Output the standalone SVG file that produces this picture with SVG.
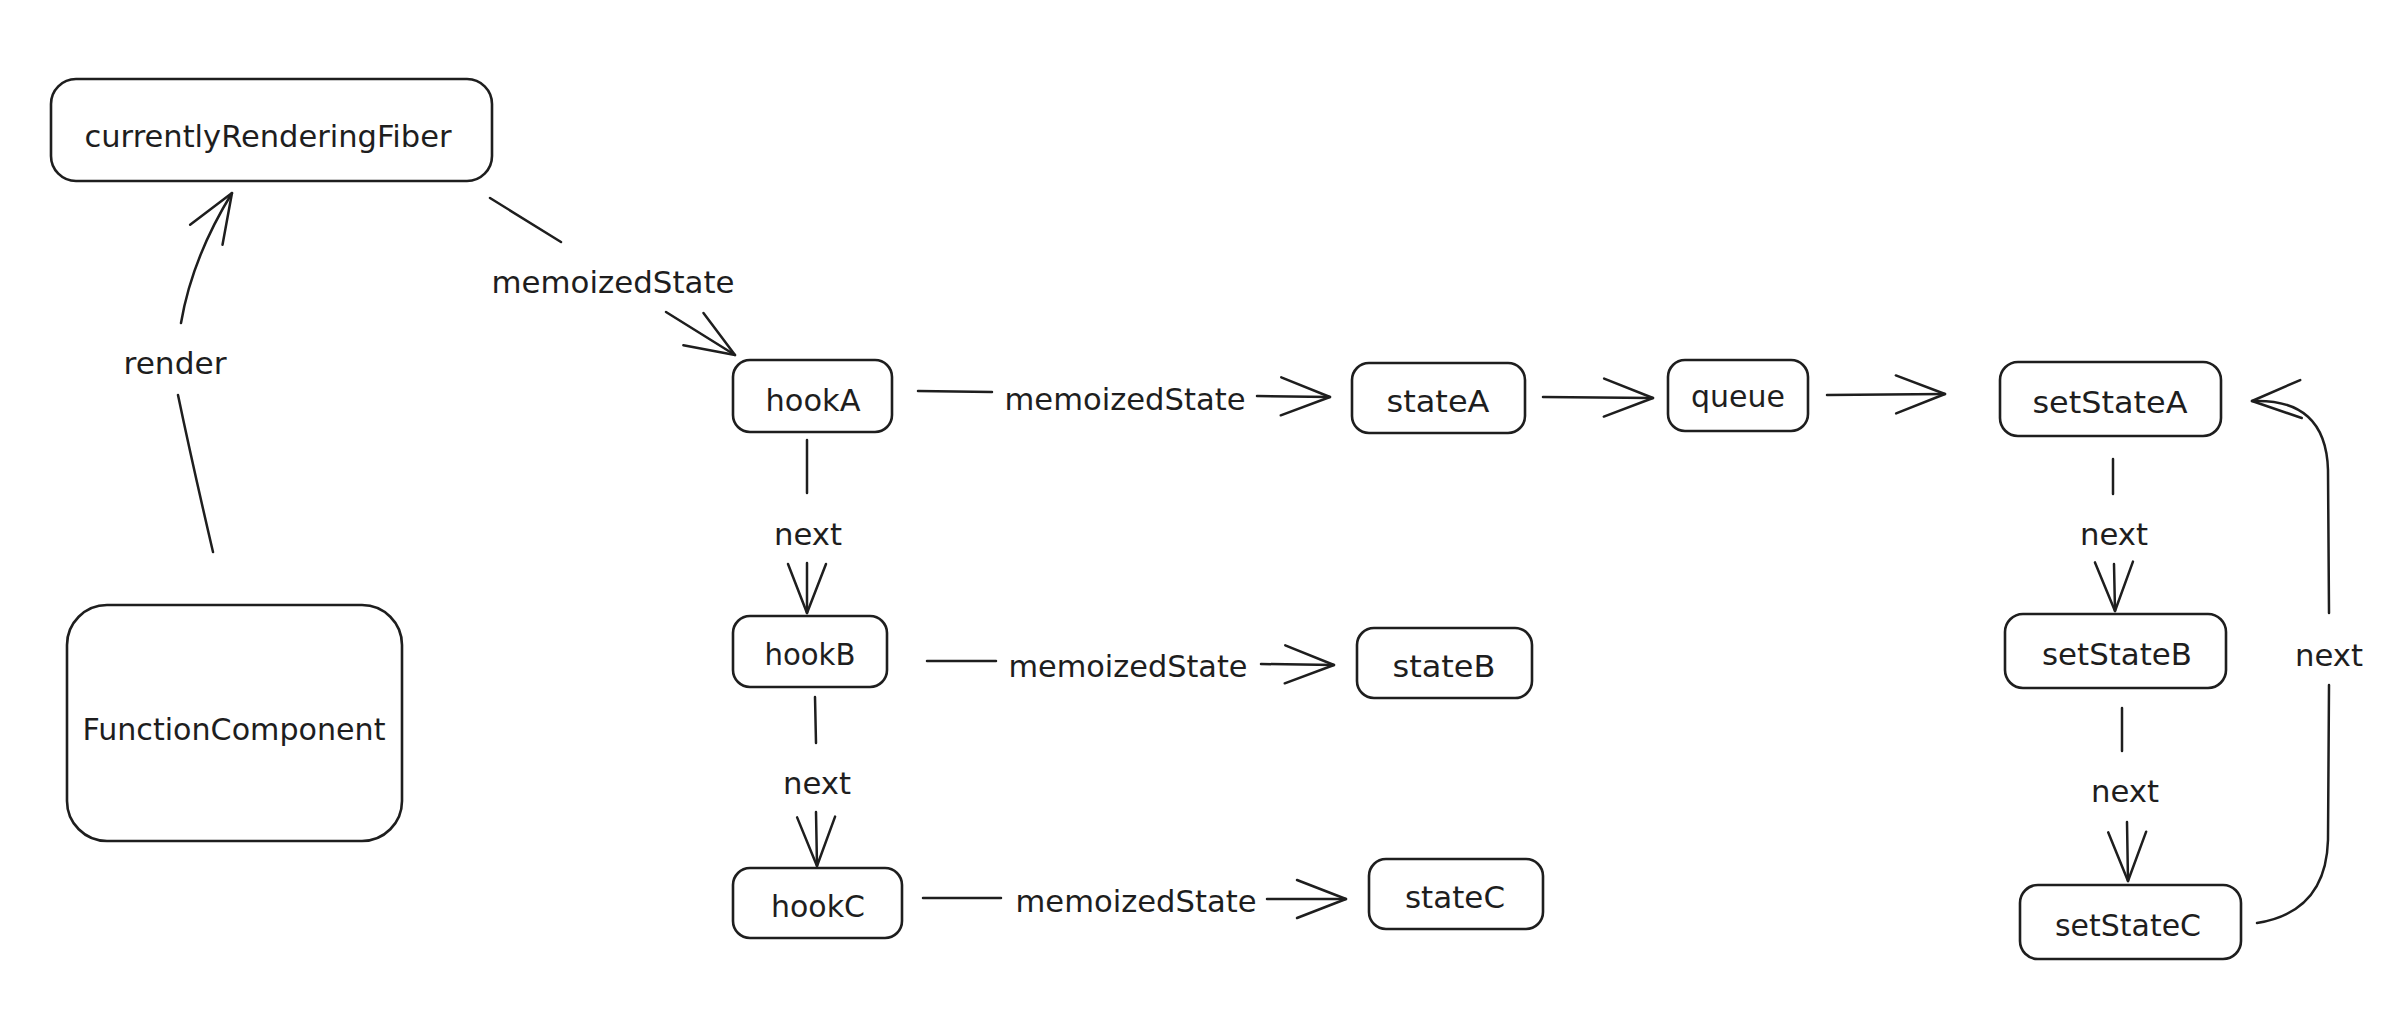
<svg xmlns="http://www.w3.org/2000/svg" width="2384" height="1022" viewBox="0 0 2384 1022">
<style>
.box{fill:#ffffff;stroke:#1e1e1e;stroke-width:2.6}
.ln{fill:none;stroke:#1e1e1e;stroke-width:2.5;stroke-linecap:round;stroke-linejoin:round}
.t{font-family:"DejaVu Sans","Liberation Sans",sans-serif;font-size:31px;fill:#1e1e1e;text-anchor:middle;dominant-baseline:central}
</style>
<defs>
<marker id="ah" markerUnits="userSpaceOnUse" viewBox="0 0 54 42" markerWidth="54" markerHeight="42" refX="51" refY="21" orient="auto">
<path d="M2,2 L51,21 L2,40" fill="none" stroke="#1e1e1e" stroke-width="2.5" stroke-linecap="round" stroke-linejoin="round"/>
</marker>
</defs>
<rect width="2384" height="1022" fill="#ffffff"/>

<g id="connectors">
<!-- render -->
<path class="ln" d="M213,552 Q192,462 178,395"/>
<path class="ln" d="M181,323 Q192,258 232,193" marker-end="url(#ah)"/>
<text class="t" x="175" y="363" textLength="103" lengthAdjust="spacingAndGlyphs">render</text>
<!-- fiber -> hookA -->
<path class="ln" d="M490,198 L561,242"/>
<path class="ln" d="M666,312 L735,355" marker-end="url(#ah)"/>
<text class="t" x="613" y="282" textLength="243" lengthAdjust="spacingAndGlyphs">memoizedState</text>
<!-- hookA -> stateA -->
<path class="ln" d="M918,391 L992,392"/>
<path class="ln" d="M1257,396 L1330,397" marker-end="url(#ah)"/>
<text class="t" x="1125" y="399" textLength="241" lengthAdjust="spacingAndGlyphs">memoizedState</text>
<!-- stateA -> queue -->
<path class="ln" d="M1543,397 L1653,398" marker-end="url(#ah)"/>
<!-- queue -> setStateA -->
<path class="ln" d="M1827,395 L1945,394" marker-end="url(#ah)"/>
<!-- hookA -> hookB -->
<path class="ln" d="M807,440 L807,493"/>
<path class="ln" d="M807,563 L807,613" marker-end="url(#ah)"/>
<text class="t" x="808" y="534" textLength="68" lengthAdjust="spacingAndGlyphs">next</text>
<!-- hookB -> stateB -->
<path class="ln" d="M927,661 L996,661"/>
<path class="ln" d="M1261,664 L1334,665" marker-end="url(#ah)"/>
<text class="t" x="1128" y="666" textLength="239" lengthAdjust="spacingAndGlyphs">memoizedState</text>
<!-- hookB -> hookC -->
<path class="ln" d="M815,697 L816,743"/>
<path class="ln" d="M816,812 L817,866" marker-end="url(#ah)"/>
<text class="t" x="817" y="783" textLength="68" lengthAdjust="spacingAndGlyphs">next</text>
<!-- hookC -> stateC -->
<path class="ln" d="M923,898 L1001,898"/>
<path class="ln" d="M1267,899 L1346,899" marker-end="url(#ah)"/>
<text class="t" x="1136" y="901" textLength="241" lengthAdjust="spacingAndGlyphs">memoizedState</text>
<!-- setStateA -> setStateB -->
<path class="ln" d="M2113,459 L2113,494"/>
<path class="ln" d="M2114,564 L2115,611" marker-end="url(#ah)"/>
<text class="t" x="2114" y="534" textLength="68" lengthAdjust="spacingAndGlyphs">next</text>
<!-- setStateB -> setStateC -->
<path class="ln" d="M2122,708 L2122,751"/>
<path class="ln" d="M2127,822 L2128,881" marker-end="url(#ah)"/>
<text class="t" x="2125" y="791" textLength="68" lengthAdjust="spacingAndGlyphs">next</text>
<!-- setStateC -> setStateA (loop) -->
<path class="ln" d="M2257,923 Q2326,912 2328,840 L2329,685"/>
<path class="ln" d="M2329,613 L2328,470 Q2326,398 2252,401" marker-end="url(#ah)"/>
<text class="t" x="2329" y="655" textLength="68" lengthAdjust="spacingAndGlyphs">next</text>
</g>

<g id="node-currentlyRenderingFiber">
<rect class="box" x="51" y="79" width="441" height="102" rx="25"/>
<text class="t" x="268" y="136" textLength="367" lengthAdjust="spacingAndGlyphs">currentlyRenderingFiber</text>
</g>
<g id="node-FunctionComponent">
<rect class="box" x="67" y="605" width="335" height="236" rx="40"/>
<text class="t" x="234" y="729" textLength="303" lengthAdjust="spacingAndGlyphs">FunctionComponent</text>
</g>
<g id="node-hookA">
<rect class="box" x="733" y="360" width="159" height="72" rx="17"/>
<text class="t" x="813" y="400" textLength="95" lengthAdjust="spacingAndGlyphs">hookA</text>
</g>
<g id="node-stateA">
<rect class="box" x="1352" y="363" width="173" height="70" rx="17"/>
<text class="t" x="1438" y="401" textLength="103" lengthAdjust="spacingAndGlyphs">stateA</text>
</g>
<g id="node-queue">
<rect class="box" x="1668" y="360" width="140" height="71" rx="17"/>
<text class="t" x="1738" y="396" textLength="94" lengthAdjust="spacingAndGlyphs">queue</text>
</g>
<g id="node-setStateA">
<rect class="box" x="2000" y="362" width="221" height="74" rx="18"/>
<text class="t" x="2110" y="402" textLength="155" lengthAdjust="spacingAndGlyphs">setStateA</text>
</g>
<g id="node-hookB">
<rect class="box" x="733" y="616" width="154" height="71" rx="17"/>
<text class="t" x="810" y="654" textLength="91" lengthAdjust="spacingAndGlyphs">hookB</text>
</g>
<g id="node-stateB">
<rect class="box" x="1357" y="628" width="175" height="70" rx="17"/>
<text class="t" x="1444" y="666" textLength="103" lengthAdjust="spacingAndGlyphs">stateB</text>
</g>
<g id="node-hookC">
<rect class="box" x="733" y="868" width="169" height="70" rx="17"/>
<text class="t" x="818" y="906" textLength="94" lengthAdjust="spacingAndGlyphs">hookC</text>
</g>
<g id="node-stateC">
<rect class="box" x="1369" y="859" width="174" height="70" rx="17"/>
<text class="t" x="1455" y="897" textLength="100" lengthAdjust="spacingAndGlyphs">stateC</text>
</g>
<g id="node-setStateB">
<rect class="box" x="2005" y="614" width="221" height="74" rx="18"/>
<text class="t" x="2117" y="654" textLength="150" lengthAdjust="spacingAndGlyphs">setStateB</text>
</g>
<g id="node-setStateC">
<rect class="box" x="2020" y="885" width="221" height="74" rx="18"/>
<text class="t" x="2128" y="925" textLength="146" lengthAdjust="spacingAndGlyphs">setStateC</text>
</g>
</svg>
